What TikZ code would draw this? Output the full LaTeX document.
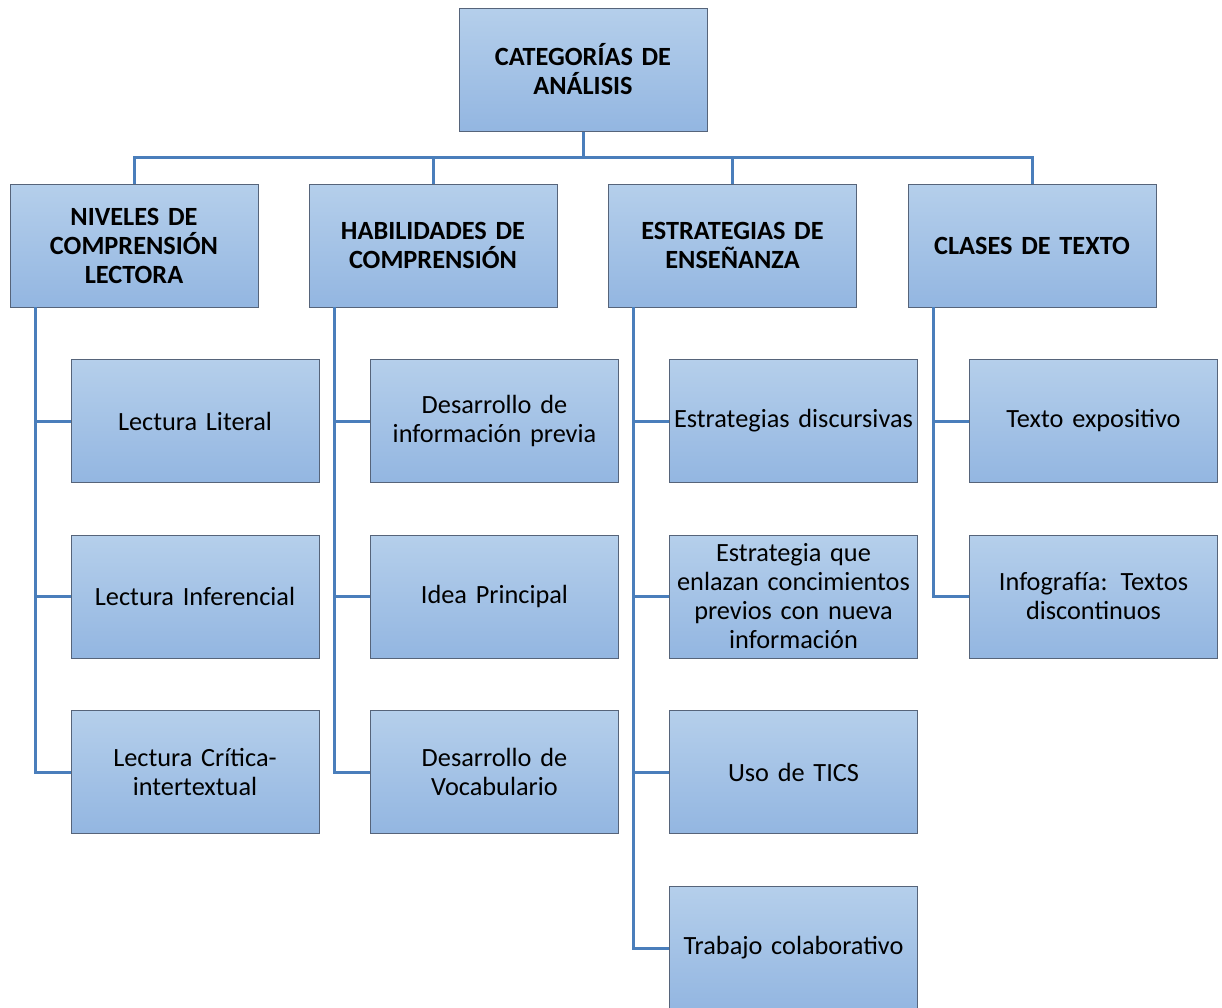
\documentclass[tikz,border=0pt]{standalone}
\usepackage{fontspec}
\setmainfont{Carlito}
\definecolor{boxtop}{HTML}{B5CFEB}
\definecolor{boxbot}{HTML}{93B6E1}
\definecolor{boxline}{HTML}{56647A}
\definecolor{conn}{HTML}{4A7EBB}
\tikzset{
  cbox/.style={draw=boxline, line width=1pt, top color=boxtop, bottom color=boxbot,
    minimum width=248pt, minimum height=123pt, text width=246pt, align=center,
    inner sep=1pt, font=\fontsize{26.3}{29}\selectfont},
  hbox/.style={cbox, font=\fontsize{26.3}{29}\selectfont\bfseries},
  link/.style={draw=conn, line width=3pt}
}
\begin{document}
\begin{tikzpicture}[x=1pt,y=-1pt]
\useasboundingbox (0,0) rectangle (1222,1007);
\clip (0,0) rectangle (1222,1007);
% top
\node[hbox] (root) at (583,69.5) {CATEGORÍAS DE\\ANÁLISIS};
\node[hbox] (a) at (134,245.5) {NIVELES DE\\COMPRENSIÓN\\LECTORA};
\node[hbox] (b) at (433,245.5) {HABILIDADES DE\\COMPRENSIÓN};
\node[hbox] (c) at (732.5,245.5) {ESTRATEGIAS DE\\ENSEÑANZA};
\node[hbox] (d) at (1032,245.5) {CLASES DE TEXTO};
% column 1
\node[cbox] (a1) at (195,421) {Lectura Literal};
\node[cbox] (a2) at (195,596.5) {Lectura Inferencial};
\node[cbox] (a3) at (195,772) {Lectura Crítica-\\intertextual};
% column 2
\node[cbox] (b1) at (494.5,421) {Desarrollo de\\información previa};
\node[cbox] (b2) at (494.5,596.5) {Idea Principal};
\node[cbox] (b3) at (494.5,772) {Desarrollo de\\Vocabulario};
% column 3
\node[cbox] (c1) at (793.5,421) {Estrategias discursivas};
\node[cbox] (c2) at (793.5,596.5) {Estrategia que\\enlazan concimientos\\previos con nueva\\información};
\node[cbox] (c3) at (793.5,772) {Uso de TICS};
\node[cbox, minimum height=124pt] (c4) at (793.5,948) {Trabajo colaborativo};
% column 4
\node[cbox] (d1) at (1093.5,421) {Texto expositivo};
\node[cbox] (d2) at (1093.5,596.5) {Infografía: Textos\\discontinuos};
% connectors top
\coordinate (bus) at (583,157);
\draw[link] (root.south) -- (bus);
\draw[link] (a.north) |- (bus) -| (d.north);
\draw[link] (b.north) -- (b.north |- bus);
\draw[link] (c.north) -- (c.north |- bus);
% spines
\coordinate (as) at (35,307);
\coordinate (bs) at (334,307);
\coordinate (cs) at (633,307);
\coordinate (ds) at (933,307);
\draw[link] (as) |- (a3.west);
\draw[link] (as |- a1.west) -- (a1.west);
\draw[link] (as |- a2.west) -- (a2.west);
\draw[link] (bs) |- (b3.west);
\draw[link] (bs |- b1.west) -- (b1.west);
\draw[link] (bs |- b2.west) -- (b2.west);
\draw[link] (cs) |- (c4.west);
\draw[link] (cs |- c1.west) -- (c1.west);
\draw[link] (cs |- c2.west) -- (c2.west);
\draw[link] (cs |- c3.west) -- (c3.west);
\draw[link] (ds) |- (d2.west);
\draw[link] (ds |- d1.west) -- (d1.west);
\end{tikzpicture}
\end{document}
